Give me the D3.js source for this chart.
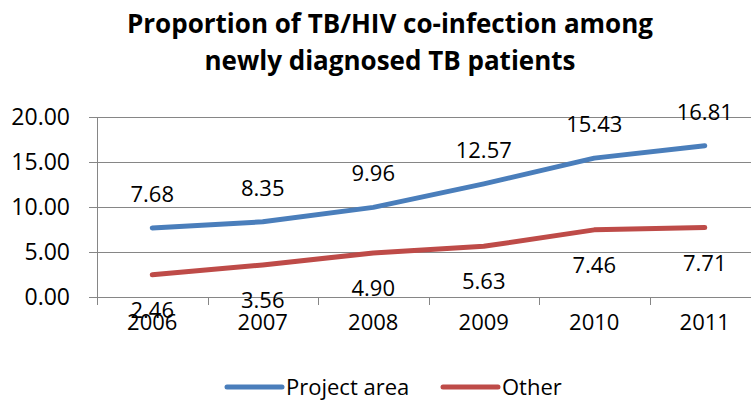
<!DOCTYPE html>
<html>
<head>
<meta charset="utf-8">
<script src="https://cdn.jsdelivr.net/npm/d3@7"></script>
<style>
  body { margin: 0; background: #fff; }
  svg { display: block; font-family: "Open Sans", sans-serif; }
</style>
</head>
<body>
<script>
// chart data
const years = ["2006", "2007", "2008", "2009", "2010", "2011"];
const projectArea = [7.68, 8.35, 9.96, 12.57, 15.43, 16.81];
const other = [2.46, 3.56, 4.90, 5.63, 7.46, 7.71];
const yTicks = [0, 5, 10, 15, 20];
const seriesNames = ["Project area", "Other"];

const W = 751, H = 401;
const m = { left: 97, top: 117, bottom: 104 };
const plotW = 663;
const plotH = H - m.top - m.bottom;

const svg = d3.select("body").append("svg")
    .attr("width", W)
    .attr("height", H);

// title
const title = svg.append("text")
    .attr("x", 390)
    .attr("text-anchor", "middle")
    .attr("font-weight", "bold")
    .attr("font-size", 26)
    .attr("fill", "#000");
title.append("tspan").attr("x", 390).attr("y", 33).text("Proportion of TB/HIV co-infection among");
title.append("tspan").attr("x", 390).attr("y", 70).text("newly diagnosed TB patients");

const x = d3.scaleBand()
    .domain(years)
    .range([m.left, m.left + plotW])
    .padding(0);

const y = d3.scaleLinear()
    .domain([0, 20])
    .range([m.top + plotH, m.top]);

const g = svg.append("g");

// gridlines
g.selectAll(".grid")
    .data(yTicks)
    .enter()
    .append("line")
    .attr("x1", m.left - 8)
    .attr("x2", m.left + plotW)
    .attr("y1", d => Math.round(y(d)) + 0.5)
    .attr("y2", d => Math.round(y(d)) + 0.5)
    .attr("stroke", "#868686")
    .attr("stroke-width", 1);

// y axis line
g.append("line")
    .attr("x1", m.left + 0.5).attr("x2", m.left + 0.5)
    .attr("y1", y(20)).attr("y2", y(0))
    .attr("stroke", "#868686");

// y tick labels
g.selectAll(".ylab")
    .data(yTicks)
    .enter()
    .append("text")
    .attr("x", m.left - 27)
    .attr("y", d => y(d) + 8)
    .attr("text-anchor", "end")
    .attr("font-size", 23)
    .text(d => d.toFixed(2));

// x ticks at category boundaries
const bounds = years.map(d => x(d)).concat([m.left + plotW]);
g.selectAll(".xtick")
    .data(bounds)
    .enter()
    .append("line")
    .attr("x1", d => Math.round(d) + 0.5)
    .attr("x2", d => Math.round(d) + 0.5)
    .attr("y1", y(0))
    .attr("y2", y(0) + 8)
    .attr("stroke", "#868686");

// x labels
g.selectAll(".xlab")
    .data(years)
    .enter()
    .append("text")
    .attr("x", d => x(d) + x.bandwidth() / 2)
    .attr("y", 330)
    .attr("text-anchor", "middle")
    .attr("font-size", 22)
    .text(d => d);

const cx = (d, i) => x(years[i]) + x.bandwidth() / 2;
const line = d3.line()
    .x((d, i) => cx(d, i))
    .y(d => y(d));

const colors = ["#4A7EBB", "#BE4B48"];

[projectArea, other].forEach((vals, k) => {
    g.append("path")
        .datum(vals)
        .attr("d", line)
        .attr("fill", "none")
        .attr("stroke", colors[k])
        .attr("stroke-width", 5)
        .attr("stroke-linecap", "round")
        .attr("stroke-linejoin", "round");
});

// data labels
g.selectAll(".lab1")
    .data(projectArea)
    .enter()
    .append("text")
    .attr("x", cx)
    .attr("y", d => y(d) - 26)
    .attr("text-anchor", "middle")
    .attr("font-size", 22)
    .text(d => d.toFixed(2));

g.selectAll(".lab2")
    .data(other)
    .enter()
    .append("text")
    .attr("x", cx)
    .attr("y", d => y(d) + 43)
    .attr("text-anchor", "middle")
    .attr("font-size", 22)
    .text(d => d.toFixed(2));

// legend
const legX = [227, 443];
seriesNames.forEach((name, k) => {
    svg.append("line")
        .attr("x1", legX[k]).attr("x2", legX[k] + 55)
        .attr("y1", 387).attr("y2", 387)
        .attr("stroke", colors[k])
        .attr("stroke-width", 5)
        .attr("stroke-linecap", "round");
    svg.append("text")
        .attr("x", legX[k] + 59)
        .attr("y", 395)
        .attr("font-size", 22)
        .text(name);
});
</script>
</body>
</html>
